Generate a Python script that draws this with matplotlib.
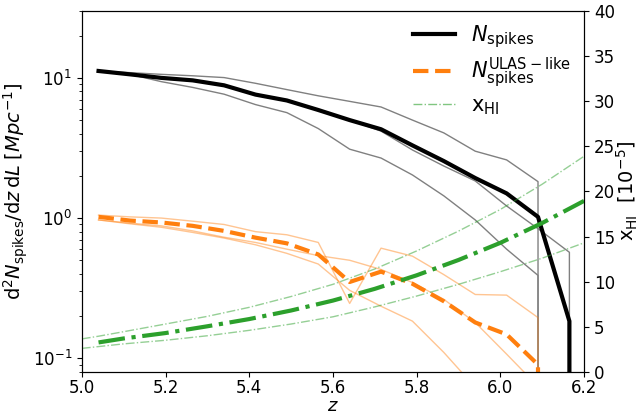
import numpy as np
import matplotlib
matplotlib.use("Agg")
import matplotlib.pyplot as plt
from matplotlib.lines import Line2D

# redshift bins
z = [5.04, 5.115, 5.19, 5.265, 5.34, 5.415, 5.49, 5.565, 5.64,
     5.715, 5.79, 5.865, 5.94, 6.015, 6.09, 6.165, 6.24]

# N_spikes: median and spread
n_spikes = [11.2, 10.6, 10.0, 9.6, 8.85, 7.6, 6.9, 5.9, 5.0,
            4.3, 3.3, 2.55, 1.93, 1.5, 1.02, 0.184, 0]
n_hi = [11.2, 10.9, 10.6, 10.35, 10.05, 9.15, 8.25, 7.45, 6.8,
        6.2, 5.0, 4.05, 3.0, 2.6, 1.82, 0, 0]
n_mid = [11.2, 10.6, 10.0, 9.6, 8.85, 7.6, 6.9, 5.9, 5.0,
         4.17, 3.06, 2.35, 1.84, 1.22, 0.84, 0.57, 0]
n_lo = [11.2, 10.6, 9.4, 8.55, 7.65, 6.45, 5.65, 4.35, 3.1,
        2.68, 2.03, 1.44, 0.97, 0.6, 0.39, 0, 0]

# ULAS-like spikes
u_spikes = [1.02, 0.96, 0.93, 0.88, 0.81, 0.725, 0.66, 0.55, 0.35,
            0.415, 0.34, 0.255, 0.18, 0.148, 0.09, 0, 0]
u_a = [1.05, 1.02, 1.0, 0.95, 0.9, 0.8, 0.76, 0.67, 0.246,
       0.61, 0.535, 0.395, 0.285, 0.282, 0.195, 0, 0]
u_b = [0.97, 0.92, 0.88, 0.81, 0.73, 0.67, 0.6, 0.54, 0.5,
       0.43, 0.347, 0.263, 0.18, 0.107, 0.063, 0, 0]
u_c = [0.97, 0.91, 0.86, 0.79, 0.72, 0.645, 0.56, 0.47, 0.305,
       0.235, 0.184, 0.11, 0.062, 0, 0, 0, 0]

# neutral fraction x_HI [1e-5]
z_x = [5.0, 5.04, 5.1, 5.2, 5.3, 5.4, 5.5, 5.6, 5.7, 5.8, 5.9, 6.0, 6.1, 6.2]
x_hi = [None, 3.26, 3.7, 4.3, 5.05, 5.85, 6.8, 7.9, 9.2, 10.7, 12.4, 14.3, 16.5, 18.95]
x_hi_up = [3.65, 3.95, 4.45, 5.3, 6.15, 7.15, 8.35, 9.7, 11.4, 13.4, 15.6, 18.0, 20.8, 23.9]
x_hi_lo = [2.6, 2.8, 3.1, 3.5, 4.0, 4.6, 5.3, 6.1, 7.2, 8.4, 9.7, 11.1, 12.6, 14.3]

fig = plt.figure(figsize=(6.39, 4.15), dpi=100)
ax = fig.add_axes([0.128, 0.104, 0.786, 0.8695])

for s in [n_hi, n_mid, n_lo]:
    ax.plot(z, s, color="grey", lw=1)
ax.plot(z, n_spikes, color="black", lw=3)

for s in [u_a, u_b, u_c]:
    ax.plot(z, s, color="tab:orange", lw=1, alpha=0.45)
ax.plot(z, u_spikes, color="tab:orange", lw=3, ls="--")

ax.set_yscale("log")
ax.set_xlim(5.0, 6.2)
ax.set_ylim(0.08, 30)
ax.set_xlabel(r"$z$", fontsize=13)
ax.xaxis.set_label_coords(0.5, -0.07)
ax.set_ylabel(r"$\mathrm{d}^2N_\mathrm{spikes}/\mathrm{d}z\,\mathrm{d}L\;[Mpc^{-1}]$",
              fontsize=14, labelpad=2)
ax.tick_params(labelsize=12)
ax.tick_params(axis="x", pad=2)

ax2 = ax.twinx()
ax2.plot(z_x, x_hi_up, color="tab:green", lw=1, ls="-.", alpha=0.5)
ax2.plot(z_x, x_hi_lo, color="tab:green", lw=1, ls="-.", alpha=0.5)
ax2.plot(z_x[1:], x_hi[1:], color="tab:green", lw=3, ls="-.")
ax2.set_ylim(0, 40)
ax2.set_yticks(range(0, 41, 5))
ax2.set_ylabel(r"$\mathrm{x}_\mathrm{HI}$  $[10^{-5}]$", fontsize=14)
ax2.yaxis.set_label_coords(1.062, 0.5)
ax2.tick_params(labelsize=12)

handles = [
    Line2D([], [], color="black", lw=3),
    Line2D([], [], color="tab:orange", lw=3, ls="--"),
    Line2D([], [], color="tab:green", lw=1, ls="-.", alpha=0.6),
]
labels = [r"$N_\mathrm{spikes}$", r"$N_\mathrm{spikes}^\mathrm{ULAS-like}$", r"$\mathrm{x}_\mathrm{HI}$"]
ax2.legend(handles, labels, loc="upper right", frameon=False, fontsize=15,
           labelspacing=0.25, borderaxespad=0.2, bbox_to_anchor=(1.0, 1.0))

plt.savefig("out.png", dpi=100)
